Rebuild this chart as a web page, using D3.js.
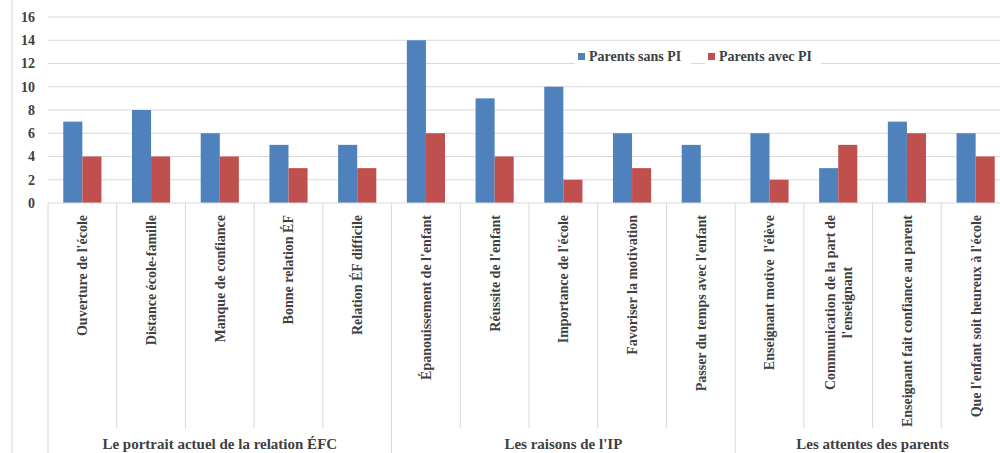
<!DOCTYPE html>
<html>
<head>
<meta charset="utf-8">
<script src="https://cdn.jsdelivr.net/npm/d3@7"></script>
<style>
  body { margin: 0; background: #fff; }
  svg { font-family: "Liberation Serif", "Times New Roman", serif; font-weight: bold; }
</style>
</head>
<body>
<div id="chart"></div>
<script>
// categories (two-line labels split with "|")
var categories = [
  "Ouverture de l'école", "Distance école-famille", "Manque de confiance",
  "Bonne relation ÉF", "Relation ÉF difficile",
  "Épanouissement de l'enfant", "Réussite de l'enfant", "Importance de l'école",
  "Favoriser la motivation", "Passer du temps avec l'enfant",
  "Enseignant motive  l'élève", "Communication de la part de|l'enseignant",
  "Enseignant fait confiance au parent", "Que l'enfant soit heureux à l'école"
];
var groups = ["Le portrait actuel de la relation ÉFC", "Les raisons de l'IP", "Les attentes des parents"];
var groupSizes = [5, 5, 4];
var seriesNames = ["Parents sans PI", "Parents avec PI"];
var sansPI = [7, 8, 6, 5, 5, 14, 9, 10, 6, 5, 6, 3, 7, 6];
var avecPI = [4, 4, 4, 3, 3, 6, 4, 2, 3, 0, 2, 5, 6, 4];
var yTicks = [0, 2, 4, 6, 8, 10, 12, 14, 16];

var colors = ["#4F81BD", "#C0504D"];
var width = 1000, height = 453;
var plotLeft = 48, plotRight = 1010, plotTop = 17, plotBottom = 203;

var svg = d3.select("#chart").append("svg")
    .attr("width", width)
    .attr("height", height);

// outer frame line on the left
svg.append("line")
    .attr("x1", 12).attr("x2", 12).attr("y1", 0).attr("y2", height)
    .attr("stroke", "#d9d9d9");

var x = d3.scaleBand().domain(d3.range(categories.length)).range([plotLeft, plotRight]);
var xs = d3.scaleBand().domain([0, 1]).range([0, x.bandwidth()]).paddingOuter(0.8).paddingInner(0);
var y = d3.scaleLinear().domain([0, 16]).range([plotBottom, plotTop]);

function xEdge(i) { return i < categories.length ? x(i) : plotRight; }

// gridlines
svg.append("g")
    .selectAll("line")
    .data(yTicks.slice(1))
    .enter().append("line")
    .attr("x1", plotLeft).attr("x2", plotRight)
    .attr("y1", d => y(d)).attr("y2", d => y(d))
    .attr("stroke", "#d9d9d9");

// y axis labels
var yAxis = d3.axisLeft(y).tickValues(yTicks).tickSize(0).tickPadding(13);
svg.append("g")
    .attr("transform", "translate(" + plotLeft + ",0)")
    .call(yAxis)
    .call(g => g.select(".domain").remove())
    .selectAll("text")
    .attr("font-family", "Liberation Serif")
    .attr("font-weight", "bold")
    .attr("font-size", 14)
    .attr("fill", "#404040");

// bars
var series = [sansPI, avecPI];
series.forEach(function(vals, s) {
  svg.append("g").selectAll("rect")
    .data(vals)
    .enter().append("rect")
    .attr("x", (d, i) => x(i) + xs(s))
    .attr("width", xs.bandwidth())
    .attr("y", d => y(d))
    .attr("height", d => y(0) - y(d))
    .attr("fill", colors[s]);
});

// x axis baseline
svg.append("line")
    .attr("x1", plotLeft).attr("x2", plotRight).attr("y1", plotBottom).attr("y2", plotBottom)
    .attr("stroke", "#d9d9d9");

// category separators
svg.append("g").selectAll("line")
    .data(d3.range(categories.length + 1))
    .enter().append("line")
    .attr("x1", xEdge).attr("x2", xEdge)
    .attr("y1", plotBottom)
    .attr("y2", 428)
    .attr("stroke", "#d9d9d9");

// group separators
var bounds = [0];
groupSizes.forEach(n => bounds.push(bounds[bounds.length - 1] + n));
svg.append("g").selectAll("line")
    .data(bounds)
    .enter().append("line")
    .attr("x1", xEdge).attr("x2", xEdge)
    .attr("y1", 428)
    .attr("y2", height)
    .attr("stroke", "#d9d9d9");

// category labels
var lab = svg.append("g").selectAll("text")
    .data(categories)
    .enter().append("text")
    .attr("transform", (d, i) => "translate(" + (x(i) + x.bandwidth() / 2) + ",215)rotate(-90)")
    .attr("font-size", 14)
    .attr("fill", "#404040")
    .style("white-space", "pre");
lab.each(function(d) {
  var lines = d.split("|");
  var t = d3.select(this);
  if (lines.length === 1) {
    t.attr("text-anchor", "end").attr("dy", "0.35em").text(d);
  } else {
    t.attr("text-anchor", "middle");
    var spans = lines.map(function(l, k) {
      return t.append("tspan")
        .attr("y", (k - (lines.length - 1) / 2) * 17)
        .attr("dy", "0.35em")
        .text(l);
    });
    // center every line on the longest one, whose top sits at the anchor
    var longest = d3.max(spans, sp => sp.node().getComputedTextLength());
    spans.forEach(sp => sp.attr("x", -longest / 2));
  }
});

// group labels
svg.append("g").selectAll("text")
    .data(groups)
    .enter().append("text")
    .attr("x", (d, i) => (xEdge(bounds[i]) + xEdge(bounds[i + 1])) / 2)
    .attr("y", 449)
    .attr("text-anchor", "middle")
    .attr("font-size", 15)
    .attr("fill", "#404040")
    .text(d => d);

// legend
var legendX = [578, 708];
var leg = svg.append("g").selectAll("g")
    .data(seriesNames)
    .enter().append("g")
    .attr("transform", (d, i) => "translate(" + legendX[i] + ",56)");
leg.append("rect")
    .attr("x", -3).attr("y", -8).attr("width", 116).attr("height", 16)
    .attr("fill", "#fff");
leg.append("rect")
    .attr("x", 0).attr("y", -3).attr("width", 7).attr("height", 7)
    .attr("fill", (d, i) => colors[i]);
leg.append("text")
    .attr("x", 11).attr("y", 0).attr("dy", "0.35em")
    .attr("font-size", 14)
    .attr("fill", "#404040")
    .text(d => d);
</script>
</body>
</html>
